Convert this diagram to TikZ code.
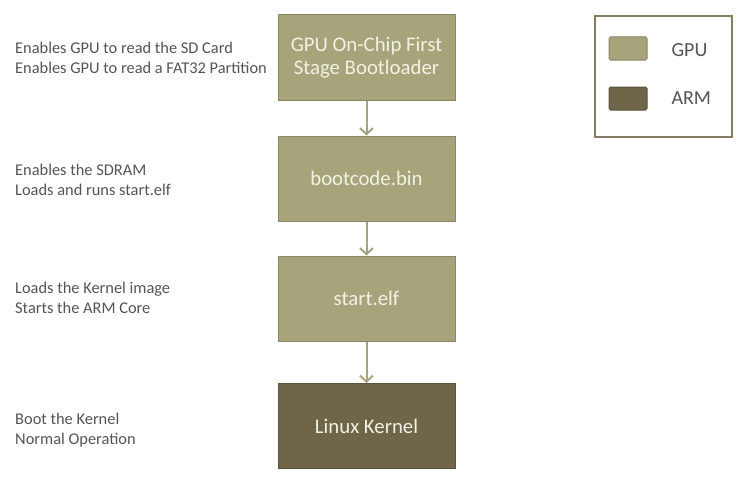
\documentclass[tikz,border=0pt]{standalone}
\usepackage{fontspec}
\setmainfont{Carlito}
\usepackage{tikz}
\usetikzlibrary{arrows.meta, positioning}
\definecolor{gpu}{RGB}{167,164,123}
\definecolor{gpuline}{RGB}{138,135,98}
\definecolor{arm}{RGB}{111,101,73}
\definecolor{armline}{RGB}{92,84,60}
\definecolor{note}{RGB}{85,85,85}
\definecolor{boxtext}{RGB}{242,242,228}

\begin{document}
\begin{tikzpicture}[x=1pt, y=-1pt,
    stage/.style={draw=gpuline, fill=gpu, line width=1pt, minimum width=177pt,
        minimum height=85pt, align=center, text=boxtext,
        font=\fontsize{20.8}{23.5}\selectfont},
    armstage/.style={stage, draw=armline, fill=arm},
    descr/.style={anchor=west, align=left, inner sep=0pt, text=note,
        font=\fontsize{16.4}{20}\selectfont},
    flow/.style={draw=gpu, line width=2pt, -{Straight Barb[length=6pt, width=13pt]}},
    swatch/.style={draw=#1line, fill=#1, line width=1pt, rounded corners=1.5pt,
        minimum width=38pt, minimum height=23pt, inner sep=0pt}]
    \useasboundingbox (0, 0) rectangle (743, 487);
    \fill[white] (0, 0) rectangle (743, 487);

    % Boot stages
    \node[stage] (fsbl) at (366.5, 57.5) {GPU On-Chip First\\Stage Bootloader};
    \node[stage] (bootcode) at (366.5, 178.5) {bootcode.bin};
    \node[stage] (startelf) at (366.5, 298.5) {start.elf};
    \node[armstage] (kernel) at (366.5, 426) {Linux Kernel};

    % Arrows between stages
    \foreach \a/\b in {fsbl/bootcode, bootcode/startelf, startelf/kernel} {
        \draw[flow] (\a) -- (\b);
    }

    % What each stage does
    \node[descr] (dfsbl) at (15, 58) {Enables GPU to read the SD Card\\Enables GPU to read a FAT32 Partition};
    \node[descr] (dbootcode) at (15, 180) {Enables the SDRAM\\Loads and runs start.elf};
    \node[descr] (dstartelf) at (15, 298) {Loads the Kernel image\\Starts the ARM Core};
    \node[descr] (dkernel) at (15, 430) {Boot the Kernel\\Normal Operation};

    % Legend
    \draw[draw=arm!85, line width=1.5pt] (595, 16) rectangle (732, 137);
    \node[swatch=gpu] (kgpu) at (628, 48.5) {};
    \node[swatch=arm] (karm) at (628, 98.5) {};
    \node[anchor=west, text=note, font=\fontsize{20}{22}\selectfont] (lgpu) at (668, 50) {GPU};
    \node[anchor=west, text=note, font=\fontsize{20}{22}\selectfont] (larm) at (668, 98.5) {ARM};
\end{tikzpicture}
\end{document}
